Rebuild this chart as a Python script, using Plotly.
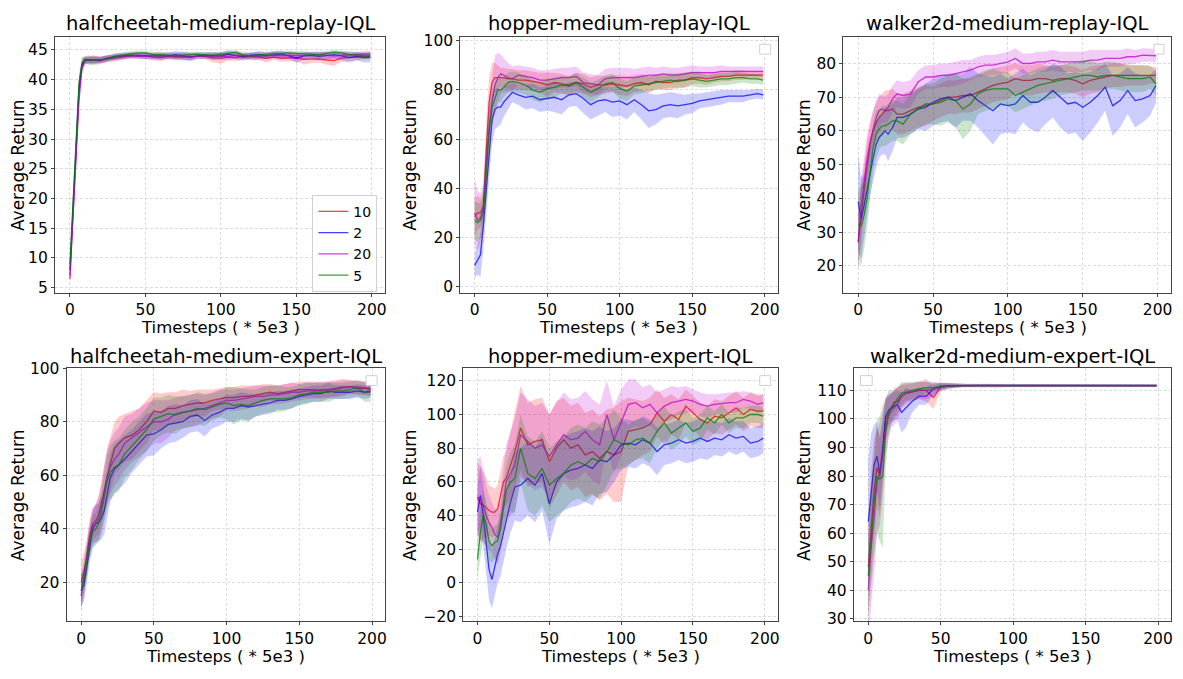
import numpy as np
import plotly.graph_objects as go
from plotly.subplots import make_subplots

X = [0, 2, 4, 6, 8, 10, 12, 14, 16, 18, 20,
     23, 26, 30, 35, 40, 45, 50, 55, 60, 65, 70,
     75, 80, 85, 90, 95, 100, 105, 110, 115, 120,
     125, 130, 135, 140, 145, 150, 155, 160, 165, 170,
     175, 180, 185, 190, 195, 199]

SERIES = ["10", "2", "20", "5"]

# ---- halfcheetah-medium-replay ----
HCMR_10 = [6.5, 17, 28, 38, 42.5, 43.2, 43.3, 43.3, 43.3, 43.2, 43.2,
           43.4, 43.5, 43.6, 43.8, 44.0, 44.0, 44.0, 43.8, 43.7, 43.9, 43.8,
           43.9, 43.8, 44.0, 43.9, 43.6, 43.6, 43.8, 43.7, 43.9, 43.9,
           43.8, 43.6, 43.8, 43.6, 43.7, 43.7, 43.4, 43.5, 43.5, 43.3,
           43.2, 43.6, 43.7, 43.8, 43.9, 44.0]
HCMR_10_SD = [1.5, 2, 2, 1.5, 1, 0.6, 0.6, 0.7, 0.8, 0.7, 0.6,
              0.6, 0.5, 0.5, 0.5, 0.4, 0.4, 0.5, 0.5, 0.6, 0.4, 0.5,
              0.5, 0.5, 0.4, 0.5, 0.7, 0.9, 0.6, 0.6, 0.5, 0.5,
              0.5, 0.7, 0.5, 0.6, 0.6, 0.6, 0.9, 0.7, 0.6, 0.8,
              0.9, 0.6, 0.5, 0.6, 0.5, 0.5]
HCMR_2 = [8, 18.5, 29, 38.5, 42.6, 43.3, 43.3, 43.3, 43.3, 43.3, 43.3,
          43.5, 43.7, 43.9, 44.0, 44.1, 44.0, 44.0, 44.0, 43.9, 44.0, 44.2,
          44.0, 43.8, 44.0, 44.1, 44.0, 44.0, 44.3, 44.0, 43.8, 44.1,
          44.2, 44.0, 44.2, 44.3, 44.0, 43.6, 44.0, 44.1, 43.9, 44.0,
          44.2, 44.0, 43.7, 43.9, 43.7, 43.8]
HCMR_2_SD = [1.5, 2, 2, 1.5, 1, 0.6, 0.5, 0.5, 0.5, 0.5, 0.5,
             0.5, 0.5, 0.5, 0.5, 0.5, 0.5, 0.5, 0.6, 0.6, 0.5, 0.6,
             0.6, 0.7, 0.5, 0.6, 0.6, 0.5, 0.7, 0.6, 0.6, 0.5,
             0.6, 0.5, 0.6, 0.6, 0.5, 0.8, 0.6, 0.6, 0.7, 0.6,
             0.6, 0.7, 0.8, 0.7, 0.8, 0.9]
HCMR_20 = [7, 16, 26.5, 36.5, 42, 43.1, 43.3, 43.3, 43.3, 43.3, 43.3,
           43.4, 43.6, 43.8, 43.9, 44.0, 44.1, 44.0, 44.0, 43.9, 43.9, 43.9,
           43.8, 43.9, 44.0, 44.0, 43.9, 43.9, 43.9, 44.1, 44.0, 43.9,
           43.9, 44.0, 44.1, 44.0, 44.1, 44.0, 44.1, 44.1, 44.2, 44.1,
           44.0, 44.1, 44.2, 44.2, 44.3, 44.3]
HCMR_20_SD = [1.5, 2, 2, 1.5, 1, 0.6, 0.6, 0.6, 0.6, 0.6, 0.6,
              0.6, 0.5, 0.5, 0.5, 0.5, 0.5, 0.5, 0.5, 0.5, 0.5, 0.6,
              0.6, 0.6, 0.5, 0.5, 0.6, 0.6, 0.6, 0.6, 0.5, 0.6,
              0.6, 0.6, 0.5, 0.6, 0.6, 0.6, 0.6, 0.5, 0.5, 0.6,
              0.6, 0.6, 0.5, 0.5, 0.5, 0.5]
HCMR_5 = [9, 19.5, 30, 39.5, 42.8, 43.4, 43.3, 43.2, 43.3, 43.3, 43.3,
          43.4, 43.6, 43.9, 44.1, 44.3, 44.5, 44.5, 44.2, 44.2, 44.1, 44.0,
          44.1, 44.2, 44.3, 44.1, 44.1, 44.3, 44.5, 44.6, 44.1, 44.0,
          44.1, 44.3, 44.4, 44.4, 44.5, 44.4, 44.3, 44.3, 44.2, 44.4,
          44.6, 44.5, 44.2, 44.1, 44.0, 43.9]
HCMR_5_SD = [1.5, 2, 2, 1.5, 1, 0.6, 0.8, 0.8, 0.7, 0.6, 0.5,
             0.5, 0.5, 0.5, 0.5, 0.4, 0.4, 0.4, 0.5, 0.5, 0.5, 0.5,
             0.5, 0.5, 0.4, 0.4, 0.5, 0.5, 0.4, 0.4, 0.5, 0.5,
             0.6, 0.4, 0.4, 0.4, 0.4, 0.4, 0.4, 0.4, 0.5, 0.4,
             0.4, 0.4, 0.5, 0.5, 0.5, 0.5]

# ---- hopper-medium-replay ----
HMR_10 = [28.5, 30, 30, 33, 55, 75, 83, 85, 85, 85, 85,
          84.5, 84.5, 84, 84, 83.5, 83, 82, 83, 82.5, 81.5, 83,
          82.5, 81, 82, 82, 82.5, 82, 81.5, 82.5, 83, 82,
          83.5, 83, 83, 84, 84, 85, 85, 84.5, 85, 85.5,
          85.5, 86, 86, 86, 86, 86]
HMR_10_SD = [8, 7, 6, 6, 12, 10, 8, 6, 5, 4, 4,
             4, 4, 4, 4, 4, 4, 5, 4, 4, 4, 4,
             4, 4, 4, 3.5, 3.5, 4, 4, 3.5, 3.5, 3.5,
             3, 3, 3, 3, 3, 2.5, 2.5, 2.5, 2, 2,
             2, 2, 2, 1.5, 1.5, 1.5]
HMR_2 = [8.6, 11, 13, 25, 40, 55, 68, 72, 73, 73, 75,
         77, 79, 78, 77, 77.5, 76, 76.5, 77, 76, 78, 78.5,
         76.5, 74, 75.5, 76, 75, 75.5, 74, 76, 74, 71.5,
         72, 73.5, 74, 73.5, 74, 74.5, 75.5, 76, 76.5, 77,
         77.5, 77.5, 77.5, 78, 78.5, 78]
HMR_2_SD = [5, 6, 9, 10, 12, 12, 10, 8, 8, 7, 6,
            5, 4, 4, 5, 5, 5, 5, 6, 6, 5, 5,
            6, 6, 6, 5, 6, 6, 6, 5, 6, 7,
            6, 5, 5, 5, 4, 4, 3, 3, 3, 3,
            2.5, 2.5, 2.5, 2, 2, 2]
HMR_20 = [30, 27, 28, 32, 50, 65, 75, 82, 85, 86.5, 86,
          85, 84.5, 86, 85.5, 85, 84, 84, 84.5, 85, 85, 85.5,
          83, 82.5, 82, 84.5, 85, 85, 85, 85, 85.5, 86,
          86, 86.5, 86, 86, 86.5, 87, 87, 87, 87, 87.5,
          87.5, 87.5, 87.5, 87.5, 87.5, 87.5]
HMR_20_SD = [14, 12, 10, 10, 12, 12, 10, 12, 10, 8, 7,
             6, 5, 4, 4, 4, 4, 4, 4, 4, 4, 4,
             4, 4, 4, 4, 4, 4, 4, 3.5, 3.5, 3.5,
             3, 3, 3, 3, 3, 3, 2.5, 2.5, 2.5, 2.5,
             2, 2, 2, 2, 2, 2]
HMR_5 = [27, 26, 27, 30, 45, 63, 73, 77, 80, 80, 81,
         83, 83.5, 83, 82, 80, 79, 80.5, 81, 82, 82, 83,
         81, 79, 80.5, 82.5, 83, 80.5, 79.5, 81.5, 82, 82.5,
         83, 83.5, 84, 83.5, 84, 84.5, 84, 83.5, 84, 84.5,
         84.5, 85, 85, 84.5, 84.5, 84]
HMR_5_SD = [8, 8, 7, 8, 12, 10, 7, 6, 5, 5, 4,
            4, 4, 4, 4, 4, 4, 4, 4, 3.5, 3.5, 4,
            4, 4, 3.5, 3.5, 3.5, 4, 4, 3.5, 3.5, 3,
            3, 3, 3, 3, 3, 3, 3, 2.5, 2.5, 2.5,
            2.5, 2.5, 2, 2, 2, 2]

# ---- walker2d-medium-replay ----
WMR_10 = [27, 35, 42, 50, 56, 60, 62.5, 64, 65, 66, 66,
          66.5, 65, 65, 66, 67, 67.5, 68, 69, 70, 70, 70.5,
          70.5, 71.5, 72.5, 73.5, 74, 74.5, 75.5, 75, 75, 75.5,
          75.5, 75, 75.5, 75.5, 75, 74, 75, 75.5, 76, 76.5,
          76.5, 76.5, 76.5, 76.5, 76.5, 76.5]
WMR_10_SD = [8, 9, 8, 7, 6, 6, 6, 6, 6, 6, 6,
             6, 6, 6, 6, 6, 6, 5, 5, 5, 5, 5,
             5, 5, 5, 5, 5, 5, 4.5, 4.5, 4.5, 4.5,
             4, 4, 4, 4, 4, 4, 4, 4, 3.5, 3.5,
             3.5, 3, 3, 3, 2.5, 2.5]
WMR_2 = [39, 34, 38, 43, 48, 52, 56, 58, 59, 60, 59,
         61, 64, 64, 65, 66.5, 67, 68.5, 69.5, 70, 69, 70,
         71, 69, 67.5, 66, 68, 67.5, 68, 70.5, 68.5, 68.5,
         70, 72, 70, 68, 68.5, 67, 68.5, 70.5, 73, 67.5,
         69, 72, 69, 69.5, 70.5, 73.5]
WMR_2_SD = [14, 12, 9, 8, 7, 7, 7, 6, 6, 7, 8,
            7, 6, 6, 6, 6, 7, 7, 7, 7, 8, 7,
            8, 8, 9, 10, 9, 8, 9, 8, 8, 9,
            8, 8, 9, 9, 9, 10, 9, 8, 7, 9,
            8, 7, 8, 7, 6, 5]
WMR_20 = [27, 38, 45, 52, 57, 61, 64, 66, 66.5, 66, 67,
          69.5, 71, 70.5, 71, 74.5, 76, 76, 76.5, 76.5, 77, 77.5,
          78, 79, 79.5, 79.5, 80, 80.5, 81.5, 80, 80, 80.5,
          80.5, 81, 80.5, 80.5, 80.5, 80.5, 81, 81, 81.5, 81.5,
          81.5, 82, 82, 82.5, 82.5, 82.3]
WMR_20_SD = [8, 8, 7, 7, 6, 5, 5, 5, 4, 4, 4,
             4, 4, 4, 4, 3.5, 3.5, 3.5, 3.5, 3.5, 3.5, 3.5,
             3, 3, 3, 3, 3, 3, 3, 3, 3, 3,
             3, 3, 3, 3, 3, 3, 3, 3, 2.5, 2.5,
             2.5, 2.5, 2, 2, 2, 2]
WMR_5 = [32, 32, 35, 40, 48, 55, 59, 60.5, 61.5, 61.5, 62,
         63, 63, 62, 65, 66.5, 68, 68, 68.5, 69.5, 69, 66.5,
         68, 71, 72, 72.5, 72.5, 72.5, 70.5, 71.5, 72.5, 73.5,
         74, 74.5, 75, 75.5, 76, 76.5, 76.5, 76, 76.5, 76.5,
         76, 75.5, 75.5, 75.5, 76, 74]
WMR_5_SD = [10, 12, 10, 9, 8, 7, 7, 6, 6, 6, 6,
            6, 6, 6, 6, 6, 6, 6, 7, 7, 8, 9,
            8, 6, 6, 6, 5, 5, 5, 5, 5, 5,
            5, 5, 4.5, 4.5, 4.5, 4.5, 4.5, 4, 4, 4,
            4, 4, 4, 4, 3.5, 3.5]

# ---- halfcheetah-medium-expert ----
HCME_10 = [20, 24, 30, 38, 42, 43, 45, 50, 55, 60, 64,
           70, 72, 74, 75, 77, 80, 84, 83.5, 85, 85, 86,
           86.5, 87, 87, 88, 88.5, 89, 89, 89.5, 89.5, 90,
           90.5, 91, 90.5, 91, 91.5, 92, 92, 92, 91.5, 92,
           92.5, 93, 93, 92.5, 92.5, 92]
HCME_10_SD = [8, 7, 6, 6, 6, 6, 7, 8, 9, 10, 10,
              10, 10, 9, 9, 8, 8, 7, 7, 6, 6, 6,
              5, 5, 5, 4, 4, 4, 4, 4, 4, 3.5,
              3.5, 3, 3, 3, 3, 3, 3, 3, 3, 3,
              3, 3, 2.5, 2.5, 2.5, 2.5]
HCME_2 = [17, 19, 26, 34, 40, 42, 42.5, 44, 47, 53, 59,
          62.5, 64, 66, 69, 72, 75, 75.5, 77, 79, 79.5, 80,
          82, 82.5, 80.5, 82.5, 83.5, 85, 85, 86, 85.5, 86,
          86.5, 87, 88, 88, 88.5, 89.5, 90, 90.5, 90.5, 91.5,
          91, 91, 91, 91.5, 91, 91.5]
HCME_2_SD = [6, 6, 6, 6, 7, 7, 7, 8, 9, 9, 9,
             9, 9, 9, 8, 8, 8, 8, 7, 7, 7, 6,
             6, 6, 6, 5, 5, 5, 5, 5, 5, 4,
             4, 4, 3.5, 3.5, 3.5, 3, 3, 3, 3, 3,
             2.5, 2.5, 2.5, 2.5, 2.5, 2.5]
HCME_20 = [15, 22, 30, 37, 41, 42, 44, 48, 54, 60, 63,
           66, 68, 72, 74, 76, 78, 80, 80, 81, 83, 83.5,
           84, 84.5, 85, 86, 87, 88, 88, 88.5, 89, 89.5,
           89.5, 90, 90, 90.5, 91, 91, 91.5, 91.5, 92, 92,
           92, 92.5, 93, 93, 92.5, 92.5]
HCME_20_SD = [6, 6, 6, 6, 6, 7, 8, 9, 10, 10, 10,
              10, 10, 10, 9, 9, 9, 8, 8, 7, 6, 6,
              6, 6, 5, 5, 5, 4, 4, 4, 4, 4,
              4, 3.5, 3.5, 3.5, 3.5, 3, 3, 3, 3, 3,
              3, 3, 2.5, 2.5, 2.5, 2.5]
HCME_5 = [17, 21, 28, 35, 39, 40, 42, 46, 52, 58, 61,
          63, 64, 68, 71, 74, 77, 81, 82, 83, 82.5, 83.5,
          84, 85, 84.5, 85.5, 86.5, 87, 86, 86.5, 86, 87,
          88, 88.5, 88.5, 88.5, 89, 90, 90.5, 91, 91, 91,
          91.5, 91.5, 92, 92.5, 91, 91]
HCME_5_SD = [6, 6, 6, 6, 6, 6, 7, 8, 9, 10, 10,
             10, 10, 9, 9, 8, 8, 8, 7, 7, 7, 6,
             6, 6, 6, 5, 5, 6, 7, 6, 6, 5,
             5, 5, 5, 4.5, 4, 4, 4, 3.5, 3.5, 3.5,
             3, 3, 3, 3, 3.5, 3.5]

# ---- hopper-medium-expert ----
HME_10 = [51, 47, 46, 45, 43, 42, 42, 44, 52, 60, 62,
          70, 78, 92, 82, 84, 85, 72, 80, 85, 80, 82,
          76, 78, 74, 78, 76, 78, 90, 91, 92, 94,
          101, 96, 100, 97, 105, 101, 97, 95, 99, 98,
          101, 104, 100, 103, 102, 102]
HME_10_SD = [20, 22, 20, 18, 15, 15, 14, 14, 15, 15, 16,
             20, 22, 25, 25, 25, 25, 28, 28, 25, 25, 25,
             25, 25, 25, 25, 28, 30, 20, 18, 16, 16,
             14, 14, 12, 12, 10, 10, 10, 10, 10, 10,
             10, 10, 10, 10, 10, 10]
HME_2 = [42, 52, 40, 25, 8, 2, 10, 17, 22, 30, 38,
         48, 57, 58, 62, 58, 65, 47, 60, 65, 67, 68,
         70, 68, 73, 72, 76, 82, 83, 82, 85, 83,
         78, 82, 83, 85, 83, 84, 86, 84, 86, 85,
         88, 86, 87, 83, 84, 86]
HME_2_SD = [15, 18, 18, 18, 18, 17, 17, 17, 18, 18, 18,
            18, 20, 22, 22, 22, 22, 24, 22, 22, 22, 22,
            22, 22, 20, 18, 16, 15, 14, 14, 14, 14,
            14, 12, 12, 12, 12, 12, 12, 11, 10, 10,
            10, 10, 9, 9, 9, 9]
HME_20 = [51, 50, 46, 40, 36, 33, 29, 27, 35, 48, 60,
          65, 70, 88, 84, 80, 82, 75, 82, 88, 85, 86,
          90, 85, 82, 100, 85, 95, 106, 107, 104, 106,
          101, 105, 107, 108, 109, 108, 106, 105, 106, 106.5,
          107, 107, 109, 108, 106, 107]
HME_20_SD = [22, 25, 22, 18, 16, 15, 15, 16, 18, 20, 22,
             25, 28, 25, 25, 25, 25, 25, 25, 25, 24, 24,
             24, 24, 24, 20, 20, 20, 15, 14, 12, 12,
             12, 10, 10, 8, 8, 7, 7, 7, 6, 6,
             6, 6, 5, 5, 5, 5]
HME_5 = [14, 30, 40, 35, 25, 22, 24, 25, 32, 45, 55,
         60, 62, 80, 65, 62, 68, 58, 62, 65, 70, 72,
         70, 74, 72, 78, 85, 83, 82, 85, 86, 83,
         90, 95, 89, 92, 95, 90, 92, 98, 95, 100,
         95, 98, 98, 100, 100, 99]
HME_5_SD = [12, 15, 15, 14, 12, 10, 10, 10, 12, 14, 15,
            18, 20, 20, 22, 22, 22, 22, 22, 22, 22, 22,
            22, 22, 22, 20, 18, 15, 12, 12, 12, 12,
            10, 10, 10, 10, 8, 8, 8, 7, 7, 6,
            6, 6, 6, 5, 5, 5]

# ---- walker2d-medium-expert ----
WME_10 = [48, 62, 75, 83, 80, 88, 100, 102, 104, 106, 106,
          108, 109, 109.5, 110, 110, 107.5, 111.3, 111.6, 111.7, 111.7, 111.7,
          111.7, 111.6, 111.7, 111.7, 111.6, 111.7, 111.7, 111.6, 111.7, 111.7,
          111.7, 111.6, 111.7, 111.7, 111.7, 111.6, 111.7, 111.7, 111.7, 111.6,
          111.7, 111.7, 111.6, 111.6, 111.6, 111.6]
WME_10_SD = [16, 20, 18, 14, 14, 12, 8, 6, 5, 5, 5,
             4, 3, 3, 3, 4, 4, 1.5, 1, 0.8, 0.6, 0.5,
             0.5, 0.5, 0.5, 0.5, 0.4, 0.4, 0.4, 0.4, 0.4, 0.4,
             0.4, 0.4, 0.4, 0.4, 0.4, 0.4, 0.4, 0.4, 0.4, 0.4,
             0.4, 0.4, 0.4, 0.4, 0.4, 0.4]
WME_2 = [64, 75, 84, 87, 81, 90, 101, 103, 104, 104.5, 105,
         102.3, 104, 106, 108, 108, 110.5, 111.3, 111.6, 111.7, 111.8, 111.8,
         111.8, 111.8, 111.9, 111.8, 111.8, 111.8, 111.8, 111.9, 111.8, 111.8,
         111.8, 111.8, 111.8, 111.9, 111.8, 111.8, 111.8, 111.8, 111.8, 111.9,
         111.8, 111.8, 111.8, 111.8, 111.8, 111.8]
WME_2_SD = [22, 20, 14, 12, 12, 10, 6, 5, 5, 5, 5,
            7, 7, 4, 3, 3, 2, 1.2, 0.8, 0.6, 0.5, 0.5,
            0.5, 0.5, 0.5, 0.5, 0.5, 0.5, 0.5, 0.5, 0.5, 0.5,
            0.4, 0.4, 0.4, 0.4, 0.4, 0.4, 0.4, 0.4, 0.4, 0.4,
            0.4, 0.4, 0.4, 0.4, 0.4, 0.4]
WME_20 = [40, 55, 65, 78, 81, 88, 97, 101, 103, 104, 105,
          108, 109, 109.5, 110, 110, 110.5, 111.2, 111.5, 111.6, 111.7, 111.7,
          111.7, 111.7, 111.7, 111.6, 111.7, 111.7, 111.7, 111.7, 111.7, 111.6,
          111.7, 111.7, 111.7, 111.7, 111.7, 111.7, 111.7, 111.6, 111.7, 111.7,
          111.7, 111.7, 111.7, 111.7, 111.7, 111.7]
WME_20_SD = [18, 20, 20, 18, 18, 15, 10, 8, 6, 6, 6,
             4, 4, 3, 3, 3, 2.5, 1.5, 1, 0.8, 0.6, 0.5,
             0.5, 0.5, 0.5, 0.5, 0.4, 0.4, 0.4, 0.4, 0.4, 0.4,
             0.4, 0.4, 0.4, 0.4, 0.4, 0.4, 0.4, 0.4, 0.4, 0.4,
             0.4, 0.4, 0.4, 0.4, 0.4, 0.4]
WME_5 = [45, 58, 70, 80, 79, 80, 95, 102, 104, 105, 107,
         109, 109.5, 110, 110.5, 111, 111, 111.5, 111.6, 111.7, 111.7, 111.7,
         111.7, 111.7, 111.6, 111.6, 111.7, 111.7, 111.7, 111.7, 111.7, 111.7,
         111.7, 111.7, 111.7, 111.7, 111.7, 111.7, 111.7, 111.7, 111.8, 111.7,
         111.7, 111.7, 111.7, 111.7, 111.7, 111.7]
WME_5_SD = [14, 18, 18, 20, 22, 25, 12, 8, 6, 5, 4,
            4, 3, 3, 2.5, 2, 1.5, 1, 0.8, 0.6, 0.5, 0.5,
            0.5, 0.5, 0.5, 0.6, 0.5, 0.4, 0.4, 0.4, 0.4, 0.4,
            0.4, 0.4, 0.4, 0.4, 0.4, 0.4, 0.4, 0.4, 0.4, 0.4,
            0.4, 0.4, 0.4, 0.4, 0.4, 0.4]

TITLES = ["halfcheetah-medium-replay-IQL", "hopper-medium-replay-IQL",
          "walker2d-medium-replay-IQL", "halfcheetah-medium-expert-IQL",
          "hopper-medium-expert-IQL", "walker2d-medium-expert-IQL"]
Y_TICKS = [[5, 10, 15, 20, 25, 30, 35, 40, 45],
           [0, 20, 40, 60, 80, 100],
           [20, 30, 40, 50, 60, 70, 80],
           [20, 40, 60, 80, 100],
           [-20, 0, 20, 40, 60, 80, 100, 120],
           [30, 40, 50, 60, 70, 80, 90, 100, 110]]
X_TICKS = [0, 50, 100, 150, 200]

panels = [
    [(HCMR_10, HCMR_10_SD), (HCMR_2, HCMR_2_SD), (HCMR_20, HCMR_20_SD), (HCMR_5, HCMR_5_SD)],
    [(HMR_10, HMR_10_SD), (HMR_2, HMR_2_SD), (HMR_20, HMR_20_SD), (HMR_5, HMR_5_SD)],
    [(WMR_10, WMR_10_SD), (WMR_2, WMR_2_SD), (WMR_20, WMR_20_SD), (WMR_5, WMR_5_SD)],
    [(HCME_10, HCME_10_SD), (HCME_2, HCME_2_SD), (HCME_20, HCME_20_SD), (HCME_5, HCME_5_SD)],
    [(HME_10, HME_10_SD), (HME_2, HME_2_SD), (HME_20, HME_20_SD), (HME_5, HME_5_SD)],
    [(WME_10, WME_10_SD), (WME_2, WME_2_SD), (WME_20, WME_20_SD), (WME_5, WME_5_SD)],
]

LINE_COLORS = ["rgba(255,0,0,0.75)", "rgba(0,0,255,0.75)",
               "rgba(190,0,210,0.75)", "rgba(0,128,0,0.75)"]
FILL_COLORS = ["rgba(255,0,0,0.2)", "rgba(0,0,255,0.2)",
               "rgba(190,0,210,0.2)", "rgba(0,128,0,0.2)"]

# the page puts an 8px body margin round the figure, so the figure is
# sized to the window minus that and all geometry is given in screen px
PAGE_OFF = 8
W, H = 1167, 663


def px(sx):
    return (sx - PAGE_OFF) / W


def py(sy):
    return 1 - (sy - PAGE_OFF) / H


# plot frames in screen pixels: left, right, top, bottom
FRAMES = [(55, 386, 29, 291), (461, 779, 29, 291), (844.7, 1173, 29, 291),
          (66.7, 385.7, 368, 627.5), (464, 779, 368, 627.5),
          (855.3, 1173, 368, 627.5)]
Y_RANGE = [[4.18, 47.25], [-2.4, 101.7], [12.05, 88.0],
           [5.5, 100.1], [-22.9, 127.7], [29.1, 117.9]]
YLAB_X = [17.5, 410, 804.7] * 2
TITLE_Y = [16, 16, 16, 356, 356, 356]
XLAB_Y = [327, 327, 327, 663.5, 663.5, 663.5]
# the empty legend frames of the other panels (screen px)
EMPTY_LEG = [None, (761, 772, 37, 47), (1156, 1166, 37, 47),
             (366.7, 377.7, 376, 386), (761, 772, 376, 386),
             (862, 873.7, 376, 386)]

FONT = "DejaVu Sans"

fig = make_subplots(rows=2, cols=3)
xs = np.array(X, dtype=float)
for p, series in enumerate(panels):
    r, c = p // 3 + 1, p % 3 + 1
    for k, (mean, sd) in enumerate(series):
        m = np.array(mean, dtype=float)
        s = np.array(sd, dtype=float)
        fig.add_trace(go.Scatter(
            x=np.concatenate([xs, xs[::-1]]),
            y=np.concatenate([m + s, (m - s)[::-1]]),
            fill="toself", fillcolor=FILL_COLORS[k], line=dict(width=0),
            mode="lines", hoverinfo="skip", showlegend=False), row=r, col=c)
        fig.add_trace(go.Scatter(
            x=xs, y=m, mode="lines", name=SERIES[k],
            line=dict(color=LINE_COLORS[k], width=1.3),
            showlegend=(p == 0), legendgroup=SERIES[k]), row=r, col=c)

annotations = []
shapes = []
axis_common = dict(showline=True, mirror=True, linecolor="#444", linewidth=1,
                   ticks="outside", ticklen=3, tickcolor="#444",
                   showgrid=True, gridcolor="#dcdcdc", griddash="3px,2px",
                   gridwidth=1, zeroline=False,
                   tickfont=dict(family=FONT, size=15.5, color="black"))
for p in range(6):
    ax = "" if p == 0 else str(p + 1)
    L, R, T, B = FRAMES[p]
    xd = [px(L), px(R)]
    yd = [py(B), py(T)]
    fig.layout["xaxis" + ax].update(domain=xd, range=[-9.95, 208.95],
                                    tickvals=X_TICKS, **axis_common)
    fig.layout["yaxis" + ax].update(domain=yd, range=Y_RANGE[p],
                                    tickvals=Y_TICKS[p], **axis_common)
    cx = (xd[0] + xd[1]) / 2
    annotations.append(dict(text=TITLES[p], x=cx, y=py(TITLE_Y[p]),
                            xref="paper", yref="paper", xanchor="center",
                            yanchor="middle", showarrow=False,
                            font=dict(family=FONT, size=19.5, color="black")))
    annotations.append(dict(text="Timesteps ( * 5e3 )", x=cx, y=py(XLAB_Y[p]),
                            xref="paper", yref="paper", xanchor="center",
                            yanchor="middle", showarrow=False, borderpad=0,
                            font=dict(family=FONT, size=16.5, color="black")))
    annotations.append(dict(text="Average Return", x=px(YLAB_X[p]),
                            y=(yd[0] + yd[1]) / 2, xref="paper", yref="paper",
                            xanchor="center", yanchor="middle", textangle=-90,
                            showarrow=False, borderpad=0,
                            font=dict(family=FONT, size=17, color="black")))
    if EMPTY_LEG[p]:
        x0, x1, y0, y1 = EMPTY_LEG[p]
        shapes.append(dict(type="rect", xref="paper", yref="paper",
                           x0=px(x0), x1=px(x1), y0=py(y1), y1=py(y0),
                           line=dict(color="#d0d0d0", width=1),
                           fillcolor="white", layer="above"))

fig.update_layout(
    width=W, height=H, margin=dict(l=0, r=0, t=0, b=0),
    plot_bgcolor="white", paper_bgcolor="white",
    annotations=annotations, shapes=shapes,
    legend=dict(x=px(378), y=py(191), xanchor="right", yanchor="top",
                bgcolor="rgba(255,255,255,0.85)", bordercolor="#d0d0d0",
                borderwidth=1, font=dict(family=FONT, size=14, color="black"),
                tracegroupgap=0, itemwidth=30),
)
fig.write_html("out.html")
